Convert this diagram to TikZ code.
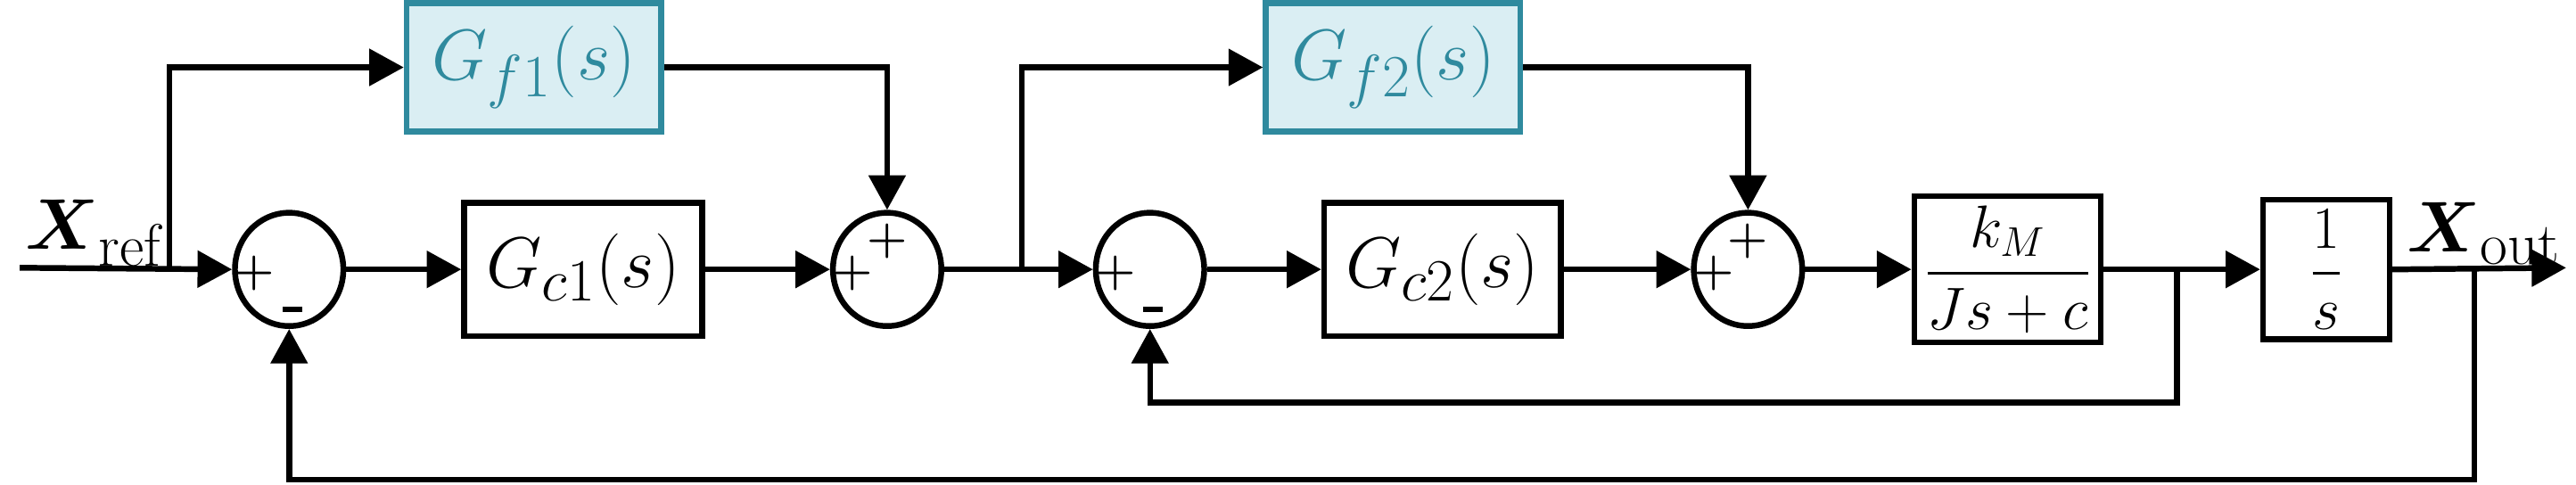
\documentclass[tikz,border=0pt]{standalone}
\usepackage{amsmath}
\usepackage{xcolor}
\usepackage{tikz}
\usetikzlibrary{calc}
\usetikzlibrary{arrows.meta}
\usetikzlibrary{positioning}
\usetikzlibrary{shapes.geometric}
\definecolor{ffline}{HTML}{2F8A9E}
\definecolor{fffill}{HTML}{DAEEF3}

\begin{document}
\begin{tikzpicture}[x=0.02cm,y=-0.02cm]
    \tikzstyle{every path}=[line width=2pt]
    \tikzstyle{blk}=[draw=black,line width=2pt,minimum height=1.62cm,font=\fontsize{30}{34}\selectfont]
    \tikzstyle{ff}=[draw=ffline,fill=fffill,line width=2pt,minimum width=3.1cm,minimum height=1.56cm,text=ffline,font=\fontsize{30}{34}\selectfont]
    \tikzstyle{sumj}=[draw=black,line width=2pt,ellipse,minimum width=1.32cm,minimum height=1.38cm,inner sep=0pt]
    \tikzstyle{sgn}=[font=\fontsize{16}{16}\selectfont\bfseries,inner sep=0pt]
    \tikzstyle{arr}=[draw,-{Triangle[length=0.42cm,width=0.44cm]}]
    \path[use as bounding box] (0,0) rectangle (1568,295);

    \coordinate (in) at (12,163);
    \node[sumj] (sum1) at (176,164) {};
    \node[blk,minimum width=2.9cm] (gc1) at (355,164) {$G_{c1}(s)$};
    \node[sumj] (sum2) at (540,164) {};
    \node[ff] (gf1) at (325,41) {$G_{f1}(s)$};
    \node[sumj] (sum3) at (700,164) {};
    \node[blk,minimum width=2.88cm] (gc2) at (878,164) {$G_{c2}(s)$};
    \node[sumj] (sum4) at (1064,164) {};
    \node[ff] (gf2) at (848,41) {$G_{f2}(s)$};
    \node[blk,minimum width=2.1cm,font=\fontsize{20}{24}\selectfont] (plant) at (1222,164) {$\dfrac{k_M}{Js+c}$};
    \node[blk,minimum width=1.54cm,font=\fontsize{20}{24}\selectfont] (integ) at (1416,164) {$\dfrac{1}{s}$};
    \coordinate (out) at (1562,163);

    % signs
    \foreach \s in {sum1,sum2,sum3,sum4}{%
      \node[sgn] at ([xshift=-0.42cm,yshift=-0.05cm]\s.center) {+};}
    \foreach \s in {sum1,sum3}{%
      \fill ([xshift=-0.08cm,yshift=-0.52cm]\s.center) rectangle ([xshift=0.16cm,yshift=-0.45cm]\s.center);}
    \foreach \s in {sum2,sum4}{%
      \node[sgn] at ([yshift=0.34cm]\s.center) {+};}

    \node[font=\fontsize{28}{30}\selectfont] at (58,142) {$\boldsymbol{X}_{\mathrm{ref}}$};
    \node[font=\fontsize{28}{30}\selectfont] at (1512,142) {$\boldsymbol{X}_{\mathrm{out}}$};

    % forward path
    \draw[arr] (in) -- (sum1.west);
    \draw[arr] (sum1.east) -- (gc1.west);
    \draw[arr] (gc1.east) -- (sum2.west);
    \draw[arr] (sum2.east) -- (sum3.west);
    \draw[arr] (sum3.east) -- (gc2.west);
    \draw[arr] (gc2.east) -- (sum4.west);
    \draw[arr] (sum4.east) -- (plant.west);
    \draw[arr] (plant.east) -- (integ.west);
    \draw[arr] (integ.east) -- (out);

    % feedforward
    \draw[arr] (103,163) |- (gf1.west);
    \draw[arr] (gf1.east) -| (sum2.north);
    \draw[arr] (622,163) |- (gf2.west);
    \draw[arr] (gf2.east) -| (sum4.north);

    % feedback
    \draw[arr] (1325,163) |- (700,245) -- (sum3.south);
    \draw[arr] (1506,163) |- (176,292) -- (sum1.south);
\end{tikzpicture}
\end{document}
